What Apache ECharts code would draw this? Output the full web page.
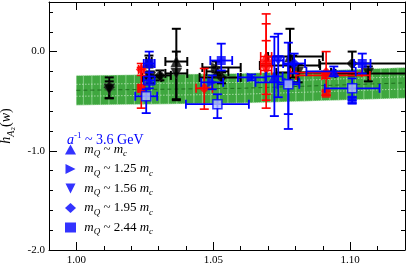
<!DOCTYPE html>
<html><head><meta charset="utf-8">
<script src="https://cdn.jsdelivr.net/npm/echarts@6/dist/echarts.min.js"></script>
<style>html,body{margin:0;padding:0;background:#fff}#c{width:407px;height:274px}</style>
</head><body><div id="c"></div>
<script>
// ---- data (w, h, xErrLow, xErrHigh, yErrLow, yErrHigh) ----
const xMajor = [1.00, 1.05, 1.10];
const yMajor = [-2.0, -1.0, 0.0];
const bandW  = [1.00, 1.06, 1.12];
const bandHi = [-0.24, -0.22, -0.16];
const bandLo = [-0.54, -0.52, -0.47];

const blackPts = [
  [1.012, -0.36, 0, 0, 0.11, 0.10],
  [1.012, -0.38, 0, 0, 0.09, 0.08],
  [1.0365, -0.10, 0.004, 0.004, 0.38, 0.33],
  [1.0365, -0.22, 0.004, 0.004, 0.27, 0.22],
  [1.0265, -0.10, 0.001, 0.001, 0.06, 0.06],
  [1.027, -0.26, 0.003, 0.004, 0.06, 0.06],
  [1.0305, -0.24, 0.005, 0.004, 0.05, 0.05],
  [1.051, -0.16, 0.005, 0.009, 0.05, 0.06],
  [1.053, -0.26, 0.008, 0.007, 0.06, 0.05],
  [1.0515, -0.20, 0.004, 0.004, 0.04, 0.04],
  [1.078, -0.05, 0.008, 0.012, 0.26, 0.28],
  [1.079, -0.14, 0.012, 0.010, 0.12, 0.10],
  [1.081, -0.21, 0.008, 0.012, 0.10, 0.08],
  [1.1007, -0.12, 0.012, 0.030, 0.12, 0.12],
  [1.1066, -0.22, 0.012, 0.030, 0.08, 0.07]
];
const blackSym = [3, 2, 0, 2, 0, 2, 3, 1, 3, 0, 0, 1, 2, 3, 2];

const redPts = [
  [1.0237, -0.37, 0.001, 0.001, 0.20, 0.21],
  [1.0237, -0.18, 0.001, 0.001, 0.06, 0.06],
  [1.0467, -0.37, 0.003, 0.003, 0.21, 0.20],
  [1.0693, -0.05, 0.002, 0.002, 0.38, 0.43],
  [1.0693, -0.12, 0.002, 0.002, 0.45, 0.40],
  [1.0693, -0.19, 0.002, 0.002, 0.30, 0.30],
  [1.0912, -0.21, 0.013, 0.013, 0.23, 0.21],
  [1.0912, -0.24, 0.011, 0.016, 0.03, 0.03],
  [1.0912, -0.42, 0, 0, 0.02, 0.02]
];
const redSym = [4, 3, 3, 0, 3, 2, 3, 1, 4];

const bluePts = [
  [1.0266, -0.12, 0.002, 0.002, 0.13, 0.12],
  [1.0266, -0.29, 0.002, 0.002, 0.08, 0.08],
  [1.0529, -0.09, 0.004, 0.004, 0.10, 0.17],
  [1.0496, -0.31, 0.004, 0.004, 0.07, 0.07],
  [1.0737, -0.09, 0.002, 0.002, 0.37, 0.27],
  [1.0723, -0.25, 0.003, 0.003, 0.40, 0.40],
  [1.0795, -0.12, 0.004, 0.004, 0.10, 0.10],
  [1.0774, -0.31, 0.012, 0.004, 0.47, 0.40],
  [1.1044, -0.12, 0.003, 0.003, 0.10, 0.10],
  [1.1007, -0.49, 0, 0, 0.03, 0.03],
  [1.094, -0.20, 0.010, 0.008, 0.05, 0.05],
  [1.064, -0.26, 0.005, 0.005, 0.03, 0.03]
];
const blueSym = [4, 0, 4, 1, 2, 0, 3, 1, 4, 4, 0, 1];

const lightPts = [
  [1.0255, -0.45, 0.004, 0.004, 0.17, 0.07],
  [1.0515, -0.53, 0.0115, 0.0115, 0.14, 0.10],
  [1.0774, -0.33, 0.004, 0.004, 0.30, 0.20],
  [1.1007, -0.37, 0.010, 0.010, 0.12, 0.10]
];

const legendNames = ['m_Q ~ m_c', 'm_Q ~ 1.25 m_c', 'm_Q ~ 1.56 m_c', 'm_Q ~ 1.95 m_c', 'm_Q ~ 2.44 m_c'];
const legendFactors = ['', '1.25 ', '1.56 ', '1.95 ', '2.44 '];

// ---- styling ----
const SERIF = 'Liberation Serif, DejaVu Serif, serif';
const symbols = ['triangle', 'path://M0,0L10,5L0,10Z', 'path://M0,0L10,0L5,10Z', 'diamond', 'rect'];
const symSize = [11, 10, 11, 11, 9];

function errRender(color, lw) {
  return function (params, api) {
    const w = api.value(0), h = api.value(1);
    const xl = api.value(2), xh = api.value(3), yl = api.value(4), yh = api.value(5);
    const cap = 4.5, ch = [];
    const st = {stroke: color, lineWidth: lw};
    if (yl > 0 || yh > 0) {
      const t = api.coord([w, h + yh]), b = api.coord([w, h - yl]);
      ch.push({type: 'line', shape: {x1: t[0], y1: t[1], x2: b[0], y2: b[1]}, style: st});
      ch.push({type: 'line', shape: {x1: t[0] - cap, y1: t[1], x2: t[0] + cap, y2: t[1]}, style: st});
      ch.push({type: 'line', shape: {x1: b[0] - cap, y1: b[1], x2: b[0] + cap, y2: b[1]}, style: st});
    }
    if (xl > 0 || xh > 0) {
      const l = api.coord([w - xl, h]), r = api.coord([w + xh, h]);
      ch.push({type: 'line', shape: {x1: l[0], y1: l[1], x2: r[0], y2: r[1]}, style: st});
      ch.push({type: 'line', shape: {x1: l[0], y1: l[1] - cap, x2: l[0], y2: l[1] + cap}, style: st});
      ch.push({type: 'line', shape: {x1: r[0], y1: r[1] - cap, x2: r[0], y2: r[1] + cap}, style: st});
    }
    return {type: 'group', children: ch};
  };
}

function interp(px, pts) {
  for (let i = 0; i < pts.length - 1; i++) {
    const a = pts[i], b = pts[i + 1];
    if (px >= a[0] && px <= b[0]) return a[1] + (b[1] - a[1]) * (px - a[0]) / (b[0] - a[0]);
  }
  return pts[pts.length - 1][1];
}

function bandRender(params, api) {
  const top = bandW.map((w, i) => api.coord([w, bandHi[i]]));
  const bot = bandW.map((w, i) => api.coord([w, bandLo[i]]));
  const poly = top.concat(bot.slice().reverse());
  const ch = [{type: 'polygon', shape: {points: poly}, style: {fill: '#3fa73f'}}];
  const x0 = top[0][0], x1 = top[top.length - 1][0];
  for (let x = x0 + 7; x < x1; x += 8.5) {
    ch.push({type: 'line', shape: {x1: x, y1: interp(x, top), x2: x, y2: interp(x, bot)},
      style: {stroke: '#86cf86', lineWidth: 1}});
  }
  const mid = top.map((p, i) => [p[0], (p[1] + bot[i][1]) / 2]);
  const half = top.map((p, i) => (bot[i][1] - p[1]) / 2);
  const lineAt = (f) => top.map((p, i) => [p[0], mid[i][1] + f * half[i]]);
  ch.push({type: 'polyline', shape: {points: lineAt(-0.4)}, style: {stroke: '#d8f0d8', lineWidth: 1, lineDash: [1, 2], fill: null}});
  ch.push({type: 'polyline', shape: {points: lineAt(0.4)}, style: {stroke: '#d8f0d8', lineWidth: 1, lineDash: [1, 2], fill: null}});
  ch.push({type: 'polyline', shape: {points: lineAt(0)}, style: {stroke: '#1f6f1f', lineWidth: 1, lineDash: [4, 3], fill: null}});
  ch.push({type: 'polyline', shape: {points: top}, style: {stroke: '#e0f5e0', lineWidth: 1, lineDash: [1, 1], fill: null}});
  ch.push({type: 'polyline', shape: {points: bot}, style: {stroke: '#e0f5e0', lineWidth: 1, lineDash: [1, 1], fill: null}});
  return {type: 'group', children: ch};
}

function symData(pts, syms) {
  return pts.map((p, i) => ({value: [p[0], p[1]], symbol: symbols[syms[i]], symbolSize: symSize[syms[i]]}));
}

const xBase = {type: 'value', min: 0.99, max: 1.12, interval: 0.01, splitLine: {show: false}};
const yBase = {type: 'value', min: -2.0, max: 0.5, interval: 0.2, splitLine: {show: false}};
const lineBlack = {onZero: false, lineStyle: {color: '#000', width: 1}};
const noLine = {show: false, onZero: false};

const richLeg = {
  i: {fontFamily: SERIF, fontSize: 13, fontStyle: 'italic', lineHeight: 18, color: '#000'},
  n: {fontFamily: SERIF, fontSize: 13, lineHeight: 18, color: '#000'},
  s: {fontFamily: SERIF, fontSize: 9, fontStyle: 'italic', lineHeight: 9, verticalAlign: 'bottom', color: '#000'}
};

const series = [
  {type: 'custom', renderItem: bandRender, data: [[1.06, -0.35]], z: 1, clip: true, silent: true},
  {type: 'custom', renderItem: errRender('#000', 2), data: blackPts, z: 2, clip: true},
  {type: 'scatter', data: symData(blackPts, blackSym), itemStyle: {color: '#000', borderColor: '#444', borderWidth: 0.5}, z: 3, clip: true},
  {type: 'custom', renderItem: errRender('#ff0000', 1.6), data: redPts, z: 4, clip: true},
  {type: 'scatter', data: symData(redPts, redSym), itemStyle: {color: '#ff0000'}, z: 5, clip: true},
  {type: 'custom', renderItem: errRender('#0000ff', 1.8), data: bluePts, z: 6, clip: true}
];
for (let k = 0; k < 5; k++) {
  series.push({
    type: 'scatter', name: legendNames[k], symbol: symbols[k], symbolSize: symSize[k],
    data: bluePts.filter((p, i) => blueSym[i] === k).map(p => [p[0], p[1]]),
    itemStyle: {color: '#0000ff'}, z: 7, clip: true
  });
}
series.push({type: 'custom', renderItem: errRender('#0000ff', 1.8), data: lightPts, z: 8, clip: true});
series.push({type: 'scatter', data: lightPts.map(p => [p[0], p[1]]), symbol: 'rect', symbolSize: 9,
  itemStyle: {color: '#b4c0ff', borderColor: '#0000ff', borderWidth: 1.5}, z: 9, clip: true});

const chart = echarts.init(document.getElementById('c'), null, {renderer: 'canvas'});
chart.setOption({
  animation: false,
  backgroundColor: '#fff',
  grid: {left: 49, right: 2, top: 2, bottom: 24, containLabel: false, outerBoundsMode: 'none'},
  xAxis: [
    Object.assign({}, xBase, {position: 'bottom', axisLine: lineBlack,
      axisTick: {inside: true, length: 4, lineStyle: {color: '#000'}},
      axisLabel: {color: '#000', fontFamily: SERIF, fontSize: 11, margin: 5,
        formatter: v => (xMajor.some(m => Math.abs(m - v) < 1e-6) ? v.toFixed(2) : '')},
      name: 'w', nameLocation: 'middle', nameGap: 16,
      nameTextStyle: {fontFamily: SERIF, fontStyle: 'italic', fontSize: 13, color: '#000'}}),
    Object.assign({}, xBase, {position: 'bottom', axisLine: noLine,
      axisTick: {inside: true, length: 8, customValues: xMajor, lineStyle: {color: '#000'}}, axisLabel: {show: false}}),
    Object.assign({}, xBase, {position: 'top', axisLine: lineBlack,
      axisTick: {inside: true, length: 4, lineStyle: {color: '#000'}}, axisLabel: {show: false}}),
    Object.assign({}, xBase, {position: 'top', axisLine: noLine,
      axisTick: {inside: true, length: 8, customValues: xMajor, lineStyle: {color: '#000'}}, axisLabel: {show: false}})
  ],
  yAxis: [
    Object.assign({}, yBase, {position: 'left', axisLine: lineBlack,
      axisTick: {inside: true, length: 4, lineStyle: {color: '#000'}},
      axisLabel: {color: '#000', fontFamily: SERIF, fontSize: 11, margin: 4,
        formatter: v => (yMajor.some(m => Math.abs(m - v) < 1e-6) ? v.toFixed(1) : '')},
      name: '{i|h}{s|A}{ss|2}{n|(}{i|w}{n|)}', nameLocation: 'middle', nameRotate: 90, nameGap: 18,
      nameTextStyle: {rich: {
        i: {fontFamily: SERIF, fontSize: 14, fontStyle: 'italic', lineHeight: 20, color: '#000'},
        n: {fontFamily: SERIF, fontSize: 14, lineHeight: 20, color: '#000'},
        s: {fontFamily: SERIF, fontSize: 10, fontStyle: 'italic', lineHeight: 12, verticalAlign: 'bottom', color: '#000'},
        ss: {fontFamily: SERIF, fontSize: 7, lineHeight: 7, verticalAlign: 'bottom', color: '#000'}
      }}}),
    Object.assign({}, yBase, {position: 'left', axisLine: noLine,
      axisTick: {inside: true, length: 8, customValues: yMajor, lineStyle: {color: '#000'}}, axisLabel: {show: false}}),
    Object.assign({}, yBase, {position: 'right', axisLine: lineBlack,
      axisTick: {inside: true, length: 4, lineStyle: {color: '#000'}}, axisLabel: {show: false}}),
    Object.assign({}, yBase, {position: 'right', axisLine: noLine,
      axisTick: {inside: true, length: 8, customValues: yMajor, lineStyle: {color: '#000'}}, axisLabel: {show: false}})
  ],
  legend: {
    orient: 'vertical', left: 65, top: 143, padding: 0, itemGap: 4,
    itemWidth: 11, itemHeight: 10,
    data: legendNames.map((n, k) => ({name: n, icon: symbols[k]})),
    formatter: function (name) {
      const k = legendNames.indexOf(name);
      return '{n| }{i|m}{s|Q}{n| ~ ' + legendFactors[k] + '}{i|m}{s|c}';
    },
    textStyle: {rich: richLeg}
  },
  graphic: [{
    type: 'text', left: 67, top: 131,
    style: {text: '{i|a}{sup|-1}{n| ~ 3.6 GeV}', fill: '#0000ff',
      rich: {
        i: {fontFamily: SERIF, fontSize: 14, fontStyle: 'italic', lineHeight: 18, fill: '#0000ff'},
        n: {fontFamily: SERIF, fontSize: 14, lineHeight: 18, fill: '#0000ff'},
        sup: {fontFamily: SERIF, fontSize: 9, lineHeight: 9, verticalAlign: 'top', fill: '#0000ff'}
      }}
  }],
  series: series
});
</script></body></html>
